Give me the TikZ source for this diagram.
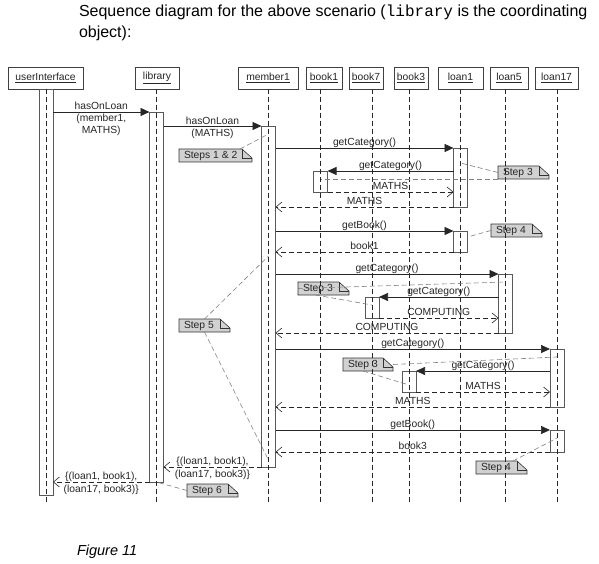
\documentclass[tikz,border=0pt]{standalone}
\usepackage{fontspec}
\setmainfont{Liberation Sans}
\setmonofont{Liberation Mono}
\usetikzlibrary{arrows.meta,calc}
\newcommand{\stepnote}[4]{%
  \node[notebox, minimum width=#3] (#1) at (#2) {};
  \draw[notefill] (#1.south west) -- (#1.north west) -- ([xshift=-10pt]#1.north east)
     -- ([yshift=-9pt]#1.north east) -- (#1.south east) -- cycle;
  \draw[notefold] ([xshift=-10pt]#1.north east) -- ([xshift=-10pt,yshift=-9pt]#1.north east)
     -- ([yshift=-9pt]#1.north east);
  \node[dfont, anchor=west] (#1-t) at ([xshift=5pt]#1.west) {#4};
}
\begin{document}
\begin{tikzpicture}[x=1pt,y=-1pt,
  every node/.style={inner sep=0pt, outer sep=0pt},
  dfont/.style={font=\fontsize{10.3}{12.3}\selectfont, text=black!85},
  head/.style={draw=black!75, line width=0.6pt, fill=white, dfont, minimum height=22pt, anchor=north west},
  life/.style={draw=black!85, line width=0.6pt, dash pattern=on 5pt off 3pt},
  actbar/.style={draw=black!65, line width=0.7pt, minimum width=14pt, anchor=north},
  msg/.style={draw=black!85, line width=0.7pt, -{Triangle[length=9pt,width=8pt]}},
  ret/.style={draw=black!85, line width=0.6pt, dash pattern=on 5pt off 3pt, -{Straight Barb[length=6pt,width=10pt]}},
  lbl/.style={dfont, anchor=base, yshift=2.5pt},
  lblm/.style={dfont, anchor=base, align=center},
  notebox/.style={anchor=north west, minimum height=13pt},
  notefill/.style={fill=black!18, draw=black!80, line width=0.6pt},
  notefold/.style={draw=black!80, line width=0.6pt},
  notelink/.style={draw=black!50, line width=0.6pt, dash pattern=on 5pt off 3pt},
]
\useasboundingbox[fill=white] (0,0) rectangle (599,564);

% title and caption
\node[anchor=base west, font=\fontsize{16}{20.5}\selectfont, align=left] (title) at (79,37.5)
  {Sequence diagram for the above scenario (\texttt{library} is the coordinating\\object):};
\node[anchor=base west, font=\fontsize{14.5}{17}\selectfont\itshape] (caption) at (77,555) {Figure 11};

% notes (drawn first: lifelines pass over them)
\stepnote{n12}{179,149}{73pt}{Steps 1 \& 2}
\stepnote{n3a}{498,166}{51pt}{Step 3}
\stepnote{n4a}{491,224}{51pt}{Step 4}
\stepnote{n3b}{298,282}{51pt}{Step 3}
\stepnote{n5}{179,319}{51pt}{Step 5}
\stepnote{n3c}{343,358}{50pt}{Step 3}
\stepnote{n4b}{476,461}{51pt}{Step 4}
\stepnote{n6}{187,484}{51pt}{Step 6}

% object headers
\node[head, minimum width=75pt] (hUI) at (8,67) {\underline{userInterface}};
\node[head, minimum width=44pt] (hLIB) at (135,67) {\underline{library}};
\node[head, minimum width=60pt] (hMEM) at (238,67) {\underline{member1}};
\node[head, minimum width=36pt] (hB1) at (306,67) {\underline{book1}};
\node[head, minimum width=34pt] (hB7) at (349,67) {\underline{book7}};
\node[head, minimum width=34pt] (hB3) at (394,67) {\underline{book3}};
\node[head, minimum width=45pt] (hL1) at (438,67) {\underline{loan1}};
\node[head, minimum width=38pt] (hL5) at (490,67) {\underline{loan5}};
\node[head, minimum width=43pt] (hL17) at (535,67) {\underline{loan17}};

% activation bars
\node[actbar, minimum height=406pt] (aUI) at (46,89) {};
\node[actbar, minimum height=370pt] (aLIB) at (156.5,112) {};
\node[actbar, minimum height=341pt] (aMEM) at (268.5,126) {};
\node[actbar, minimum height=59pt] (aL1a) at (460.5,148) {};
\node[actbar, minimum height=21pt] (aB1) at (320.5,171) {};
\node[actbar, minimum height=21pt] (aL1b) at (460.5,231) {};
\node[actbar, minimum height=59pt] (aL5) at (505.5,274) {};
\node[actbar, minimum height=21pt] (aB7) at (372,297) {};
\node[actbar, minimum height=58pt] (aL17a) at (557,349) {};
\node[actbar, minimum height=21pt] (aB3) at (409,371) {};
\node[actbar, minimum height=22pt] (aL17b) at (557,430) {};

% lifelines
\coordinate (endY) at (0,503);
\draw[life] (hUI.south -| aUI.north) -- (aUI.north |- endY);
\draw[life] (hLIB.south -| aLIB.north) -- (aLIB.north |- endY);
\draw[life] (hMEM.south -| aMEM.north) -- (aMEM.north |- endY);
\draw[life] (hB1.south -| aB1.north) -- (aB1.north |- endY);
\draw[life] (hB7.south -| aB7.north) -- (aB7.north |- endY);
\draw[life] (hB3.south -| aB3.north) -- (aB3.north |- endY);
\draw[life] (hL1.south -| aL1a.north) -- (aL1a.north |- endY);
\draw[life] (hL5.south -| aL5.north) -- (aL5.north |- endY);
\draw[life] (hL17.south -| aL17a.north) -- (aL17a.north |- endY);

% messages
\draw[msg] (aUI.east |- aLIB.north) -- node[lblm, midway, yshift=-22pt] {hasOnLoan\\(member1,\\MATHS)} (aLIB.north west);
\draw[msg] (aLIB.east |- aMEM.north) -- node[lblm, midway, yshift=-10.5pt] {hasOnLoan\\(MATHS)} (aMEM.north west);
\draw[msg] (aMEM.east |- aL1a.north) -- node[lbl, midway] {getCategory()} (aL1a.north west);
\draw[msg] (aL1a.west |- aB1.north) -- node[lbl, midway] {getCategory()} (aB1.north east);
\draw[ret] (aB1.south east) -- node[lbl, midway] {MATHS} (aL1a.west |- aB1.south);
\draw[ret] (aL1a.south west) -- node[lbl, midway] {MATHS} (aMEM.east |- aL1a.south);
\draw[msg] (aMEM.east |- aL1b.north) -- node[lbl, midway] {getBook()} (aL1b.north west);
\draw[ret] (aL1b.south west) -- node[lbl, midway] {book1} (aMEM.east |- aL1b.south);
\draw[msg] (aMEM.east |- aL5.north) -- node[lbl, midway] {getCategory()} (aL5.north west);
\draw[msg] (aL5.west |- aB7.north) -- node[lbl, midway] {getCategory()} (aB7.north east);
\draw[ret] (aB7.south east) -- node[lbl, midway] {COMPUTING} (aL5.west |- aB7.south);
\draw[ret] (aL5.south west) -- node[lbl, midway] {COMPUTING} (aMEM.east |- aL5.south);
\draw[msg] (aMEM.east |- aL17a.north) -- node[lbl, midway] {getCategory()} (aL17a.north west);
\draw[msg] (aL17a.west |- aB3.north) -- node[lbl, midway] {getCategory()} (aB3.north east);
\draw[ret] (aB3.south east) -- node[lbl, midway] {MATHS} (aL17a.west |- aB3.south);
\draw[ret] (aL17a.south west) -- node[lbl, midway] {MATHS} (aMEM.east |- aL17a.south);
\draw[msg] (aMEM.east |- aL17b.north) -- node[lbl, midway] {getBook()} (aL17b.north west);
\draw[ret] (aL17b.south west) -- node[lbl, midway] {book3} (aMEM.east |- aL17b.south);
\draw[ret] (aMEM.south west) -- node[lblm, midway, yshift=-10pt] {\{(loan1, book1),\\(loan17, book3)\}} (aLIB.east |- aMEM.south);
\draw[ret] (aLIB.south west) -- node[lblm, midway, yshift=-10pt] {\{(loan1, book1),\\(loan17, book3)\}} (aUI.east |- aLIB.south);

% note links
\draw[notelink] ([xshift=-12pt]n12.north east) -- ([yshift=-8pt]aMEM.north);
\draw[notelink] (n3a.west) -- ([yshift=-15pt]aL1a.north);
\draw[notelink] (n3a.south west) -- (aB1.center |- n3a.south west);
\draw[notelink] (n4a.west) -- ([yshift=-6pt]aL1b.north east);
\draw[notelink] (n3b.west) -- ([yshift=-8pt]aL5.north);
\draw[notelink] ([xshift=-8pt]n3b.south) -- ([yshift=-8pt]aB7.north);
\draw[notelink] (n5.north) -- ($(aMEM.center |- aL1b.south)+(0,4)$);
\draw[notelink] (n5.south) -- ([yshift=7pt]aMEM.south);
\draw[notelink] (n3c.east) -- ([yshift=-8pt]aL17a.north);
\draw[notelink] ([xshift=-5pt]n3c.south) -- ([yshift=-14pt]aB3.north);
\draw[notelink] ([xshift=-14pt]n4b.north east) -- ([yshift=-8pt]aL17b.north);
\draw[notelink] (n6.west) -- (aLIB.south);
\end{tikzpicture}
\end{document}
